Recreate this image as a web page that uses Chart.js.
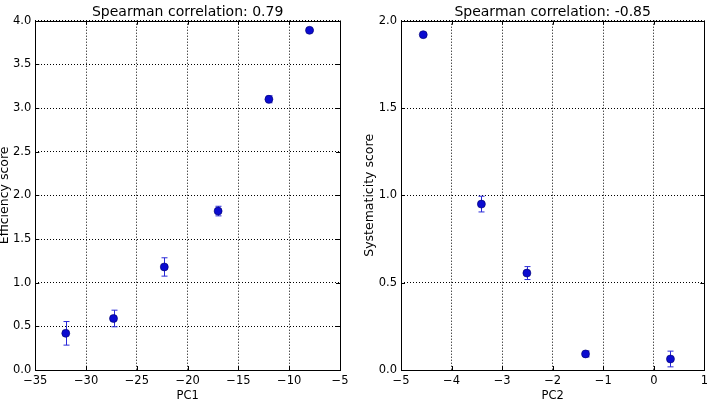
<!DOCTYPE html>
<html>
<head>
<meta charset="utf-8">
<script src="https://cdn.jsdelivr.net/npm/chart.js@4"></script>
<style>
  html, body { margin: 0; padding: 0; background: #fff; }
  #wrap { position: relative; width: 712px; height: 404px; }
  .box { position: absolute; top: 0; width: 356px; height: 404px; }
</style>
</head>
<body>
<div id="wrap">
  <div class="box" style="left:0"><canvas id="c1"></canvas></div>
  <div class="box" style="left:356px"><canvas id="c2"></canvas></div>
</div>
<script>
// left panel: efficiency vs PC1
const pc1 = [-32.0, -27.3, -22.3, -17.0, -12.0, -8.0];
const effScore = [0.42, 0.59, 1.18, 1.82, 3.10, 3.89];
const effErr = [0.135, 0.095, 0.105, 0.055, 0.04, 0.01];
const pc1Ticks = [-35, -30, -25, -20, -15, -10, -5];
const effTicks = [0.0, 0.5, 1.0, 1.5, 2.0, 2.5, 3.0, 3.5, 4.0];

// right panel: systematicity vs PC2
const pc2 = [-4.56, -3.41, -2.51, -1.35, 0.33];
const sysScore = [1.92, 0.95, 0.555, 0.092, 0.063];
const sysErr = [0.01, 0.045, 0.037, 0.017, 0.045];
const pc2Ticks = [-5, -4, -3, -2, -1, 0, 1];
const sysTicks = [0.0, 0.5, 1.0, 1.5, 2.0];

const FONT = 'DejaVu Sans';

// error bars drawn under the markers
const errorBars = {
  id: 'errorBars',
  beforeDatasetsDraw(chart) {
    const ctx = chart.ctx;
    const xs = chart.scales.x, ys = chart.scales.y;
    const ds = chart.data.datasets[0];
    ctx.save();
    ctx.strokeStyle = '#2a2ad8';
    ctx.lineWidth = 1;
    ds.data.forEach(p => {
      const x = Math.round(xs.getPixelForValue(p.x)) + 0.5;
      const y1 = ys.getPixelForValue(p.y - p.e);
      const y2 = ys.getPixelForValue(p.y + p.e);
      ctx.beginPath();
      ctx.moveTo(x, y1); ctx.lineTo(x, y2);
      ctx.moveTo(x - 3, y1); ctx.lineTo(x + 3, y1);
      ctx.moveTo(x - 3, y2); ctx.lineTo(x + 3, y2);
      ctx.stroke();
    });
    ctx.restore();
  }
};

// title centred over the plot area, inward ticks on all sides
const frame = {
  id: 'frame',
  afterDraw(chart, args, opts) {
    const ctx = chart.ctx;
    const a = chart.chartArea;
    const xs = chart.scales.x, ys = chart.scales.y;
    ctx.save();
    ctx.strokeStyle = '#000';
    ctx.lineWidth = 1;
    ctx.strokeRect(Math.round(a.left) + 0.5, Math.round(a.top) + 0.5,
      Math.round(a.right - a.left), Math.round(a.bottom - a.top));
    ctx.beginPath();
    xs.ticks.forEach(t => {
      const x = Math.round(xs.getPixelForValue(t.value)) + 0.5;
      ctx.moveTo(x, a.bottom); ctx.lineTo(x, a.bottom - 4);
      ctx.moveTo(x, a.top); ctx.lineTo(x, a.top + 4);
    });
    ys.ticks.forEach(t => {
      const y = Math.round(ys.getPixelForValue(t.value)) + 0.5;
      ctx.moveTo(a.left, y); ctx.lineTo(a.left + 4, y);
      ctx.moveTo(a.right, y); ctx.lineTo(a.right - 4, y);
    });
    ctx.stroke();
    ctx.fillStyle = '#000';
    ctx.font = '14px "' + FONT + '"';
    ctx.textAlign = 'center';
    ctx.textBaseline = 'middle';
    ctx.fillText(opts.text, (a.left + a.right) / 2, 12);
    ctx.restore();
  }
};

function fmtTick(v, digits) {
  return v.toFixed(digits).replace('-', '\u2212');
}

function makeChart(id, xv, yv, ev, xTicks, yTicks, xTitle, yTitle, title, yWidth, padRight, yTitlePad) {
  const pts = xv.map((x, i) => ({ x: x, y: yv[i], e: ev[i] }));
  return new Chart(document.getElementById(id), {
    type: 'scatter',
    data: {
      datasets: [{
        data: pts,
        pointRadius: 4,
        pointBackgroundColor: '#0b0bd0',
        pointBorderColor: '#00006a',
        pointBorderWidth: 0.6
      }]
    },
    options: {
      responsive: true,
      maintainAspectRatio: false,
      animation: false,
      layout: { padding: { top: 20.7, right: padRight, left: 0, bottom: 0 } },
      plugins: {
        legend: { display: false },
        tooltip: { enabled: false },
        frame: { text: title }
      },
      scales: {
        x: {
          type: 'linear',
          min: xTicks[0],
          max: xTicks[xTicks.length - 1],
          afterBuildTicks: s => { s.ticks = xTicks.map(v => ({ value: v })); },
          afterFit: s => { s.height = 34; },
          border: { display: false, dash: [1, 2] },
          grid: { color: '#000', lineWidth: 1, drawTicks: false },
          ticks: {
            padding: 4,
            color: '#000',
            font: { family: FONT, size: 11.5 },
            maxRotation: 0,
            callback: v => fmtTick(v, 0)
          },
          title: {
            display: true, text: xTitle, color: '#000',
            font: { family: FONT, size: 11.5 },
            padding: { top: 0, bottom: 1 }
          }
        },
        y: {
          type: 'linear',
          min: yTicks[0],
          max: yTicks[yTicks.length - 1],
          afterBuildTicks: s => { s.ticks = yTicks.map(v => ({ value: v })); },
          afterFit: s => { s.width = yWidth; },
          border: { display: false, dash: [1, 2] },
          grid: { color: '#000', lineWidth: 1, drawTicks: false },
          ticks: {
            padding: 4,
            color: '#000',
            font: { family: FONT, size: 11.5 },
            callback: v => fmtTick(v, 1)
          },
          title: {
            display: true, text: yTitle, color: '#000',
            font: { family: FONT, size: 12.5 },
            padding: { top: yTitlePad, bottom: 0 }
          }
        }
      }
    },
    plugins: [errorBars, frame]
  });
}

makeChart('c1', pc1, effScore, effErr, pc1Ticks, effTicks, 'PC1', 'Efficiency score',
  'Spearman correlation: 0.79', 35.3, 16, -3);
makeChart('c2', pc2, sysScore, sysErr, pc2Ticks, sysTicks, 'PC2', 'Systematicity score',
  'Spearman correlation: -0.85', 45, 6.3, 6);
</script>
</body>
</html>
